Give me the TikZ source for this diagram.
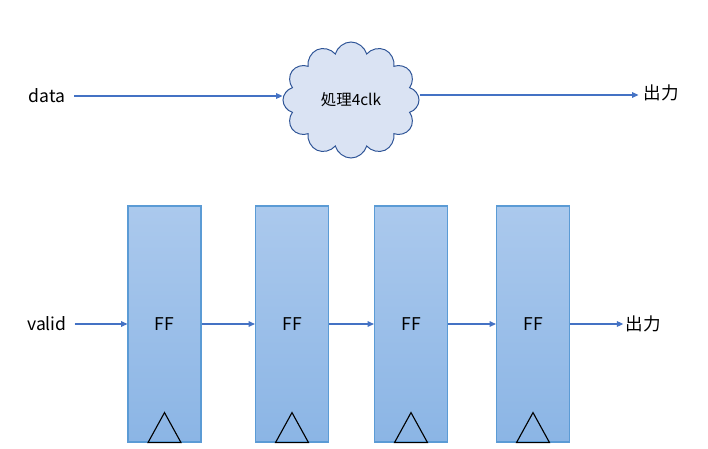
\documentclass[tikz,border=0pt]{standalone}
\usepackage{fontspec}
\setmainfont{Noto Sans CJK JP}
\usetikzlibrary{shapes.symbols, arrows.meta}

\definecolor{lineblue}{HTML}{4472C4}
\definecolor{boxedge}{HTML}{5B9BD5}
\definecolor{boxtop}{HTML}{ABC9ED}
\definecolor{boxbot}{HTML}{8BB5E5}
\definecolor{cloudfill}{HTML}{DAE3F3}
\definecolor{cloudedge}{HTML}{2F5597}

\begin{document}
\begin{tikzpicture}[
    x=0.025cm, y=-0.025cm,
    font=\fontsize{12.5}{15}\selectfont,
    sig/.style={->, >={Triangle[length=4.5pt, width=4pt]}, draw=lineblue, fill=lineblue, line width=0.8pt},
    ff/.style={rectangle, draw=boxedge, line width=0.8pt, top color=boxtop, bottom color=boxbot,
        minimum width=1.825cm, minimum height=5.9cm, inner sep=0pt},
    proc/.style={cloud, cloud puffs=12, aspect=1.2, draw=cloudedge, fill=cloudfill, line width=0.7pt,
        minimum width=3.4cm, minimum height=2.9cm, inner sep=0pt, font=\fontsize{11}{13}\selectfont}
]
    \useasboundingbox (0,0) rectangle (708,448);

    % data path through the processing cloud
    \node (data) at (47,96) {data};
    \node[proc] (proc) at (351,100) {処理4clk};
    \node (dout) at (661,93) {出力};

    \draw[sig] (data.east) ++(4,0) coordinate (dstart) -- (dstart -| proc.west);
    \draw[sig] (proc.east |- 0,95) coordinate (pend) -- (pend -| dout.west);

    % valid path through the flip-flops
    \node (valid) at (47,324) {valid};
    \node[ff] (ff1) at (164.5,324) {FF};
    \node[ff] (ff2) at (292,324) {FF};
    \node[ff] (ff3) at (411,324) {FF};
    \node[ff] (ff4) at (533,324) {FF};
    \node (vout) at (643,324) {出力};

    \draw[sig] (valid.east) ++(3,0) coordinate (vstart) -- (ff1.west);
    \draw[sig] (ff1) -- (ff2);
    \draw[sig] (ff2) -- (ff3);
    \draw[sig] (ff3) -- (ff4);
    \draw[sig] (ff4.east) -- ([xshift=2pt]vout.west);

    % clock marks
    \foreach \f in {ff1,ff2,ff3,ff4}
        \draw[line width=0.8pt] ([xshift=-0.4125cm]\f.south) -- ([yshift=0.75cm]\f.south) -- ([xshift=0.4125cm]\f.south) -- cycle;
\end{tikzpicture}
\end{document}
